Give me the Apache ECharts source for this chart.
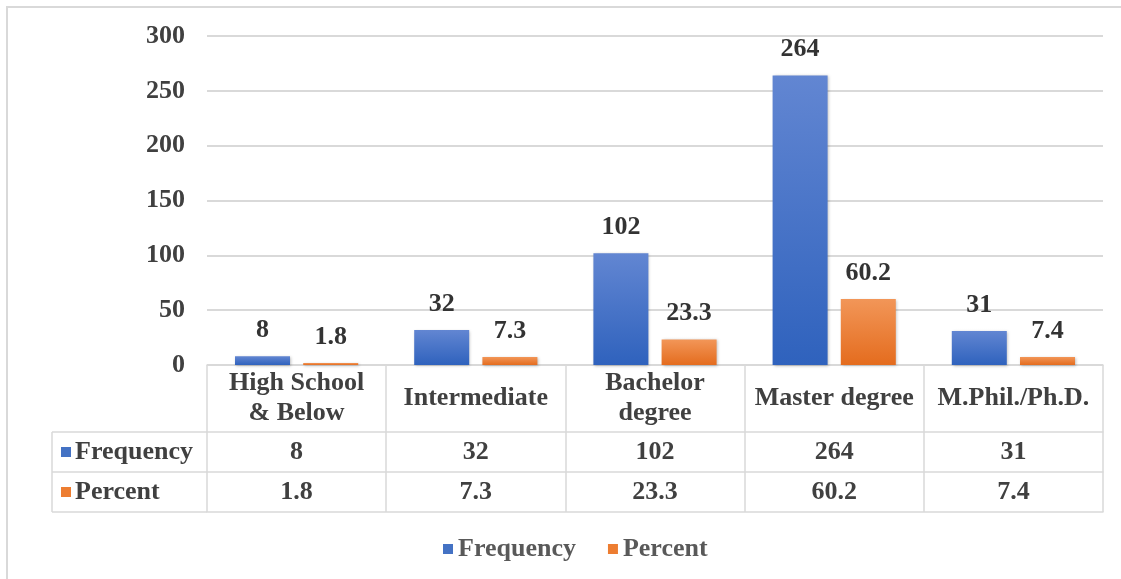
<!DOCTYPE html>
<html>
<head>
<meta charset="utf-8">
<script src="https://cdn.jsdelivr.net/npm/echarts@6/dist/echarts.min.js"></script>
<style>
  html, body { margin: 0; padding: 0; background: #ffffff; }
  #chart { width: 1121px; height: 579px; }
</style>
</head>
<body>
<div id="chart"></div>
<script>
// Education level of respondents: frequency and percent
const categories = ['High School\n& Below', 'Intermediate', 'Bachelor\ndegree', 'Master degree', 'M.Phil./Ph.D.'];
const seriesNames = ['Frequency', 'Percent'];
const frequency = [8, 32, 102, 264, 31];
const percent = [1.8, 7.3, 23.3, 60.2, 7.4];
const yMin = 0, yMax = 300, yStep = 50;

const FONT = 'Liberation Serif, "Times New Roman", serif';
const TEXT = '#404040';
const LINE = '#d9d9d9';

const blueFill = new echarts.graphic.LinearGradient(0, 0, 0, 1, [
  { offset: 0, color: '#6286d2' },
  { offset: 1, color: '#2f62bd' }
]);
const orangeFill = new echarts.graphic.LinearGradient(0, 0, 0, 1, [
  { offset: 0, color: '#f29658' },
  { offset: 1, color: '#e46c1e' }
]);

const labelStyle = {
  fontFamily: FONT, fontWeight: 'bold', fontSize: 26, color: TEXT
};

// grid geometry of the plot and the data table under it
const G = { left: 207, right: 18, top: 36, bottom: 214 };
const headerH = 67, rowH = 40;
const tableLeft = 52;
const axisY = 579 - G.bottom;

function tableAxis(data, offset, showLabel, margin) {
  return {
    type: 'category',
    data: data,
    position: 'bottom',
    offset: offset,
    axisLine: { show: true, lineStyle: { color: LINE, width: 1.5 } },
    axisTick: { show: false },
    axisLabel: Object.assign({ show: showLabel, interval: 0, margin: margin, verticalAlign: 'middle' }, labelStyle),
    splitLine: { show: false }
  };
}

const header = tableAxis(categories, 0, true, headerH / 2);
header.axisTick = { show: true, length: headerH + 2 * rowH, lineStyle: { color: LINE, width: 1.5 } };
header.axisLabel.lineHeight = 30;

// left column of the table: row titles with their colour keys
const rowGraphics = [];
[frequency, percent].forEach(function (_, i) {
  const yTop = axisY + headerH + i * rowH;
  rowGraphics.push({
    type: 'line', silent: true,
    shape: { x1: tableLeft, y1: yTop, x2: G.left, y2: yTop },
    style: { stroke: LINE, lineWidth: 1.5 }
  });
  rowGraphics.push({
    type: 'rect', silent: true,
    shape: { x: tableLeft + 9, y: yTop + rowH / 2 - 5, width: 10, height: 10 },
    style: { fill: i === 0 ? '#4472c4' : '#ed7d31' }
  });
  rowGraphics.push({
    type: 'text', silent: true,
    style: {
      x: tableLeft + 23, y: yTop + rowH / 2,
      text: seriesNames[i], verticalAlign: 'middle', align: 'left',
      font: 'bold 26px ' + FONT, fill: TEXT
    }
  });
});
const tableBottom = axisY + headerH + 2 * rowH;
rowGraphics.push({
  type: 'line', silent: true,
  shape: { x1: tableLeft, y1: tableBottom, x2: G.left, y2: tableBottom },
  style: { stroke: LINE, lineWidth: 1.5 }
});
rowGraphics.push({
  type: 'line', silent: true,
  shape: { x1: tableLeft, y1: axisY + headerH, x2: tableLeft, y2: tableBottom },
  style: { stroke: LINE, lineWidth: 1.5 }
});
// chart frame
rowGraphics.push({
  type: 'rect', silent: true, z: -1,
  shape: { x: 7, y: 7, width: 1200, height: 700 },
  style: { fill: 'none', stroke: LINE, lineWidth: 2 }
});

const chart = echarts.init(document.getElementById('chart'), null, { renderer: 'canvas' });
chart.setOption({
  animation: false,
  backgroundColor: '#ffffff',
  grid: { left: G.left, right: G.right, top: G.top, bottom: G.bottom, containLabel: false },
  legend: {
    data: [
      { name: seriesNames[0], itemStyle: { color: '#4472c4' } },
      { name: seriesNames[1], itemStyle: { color: '#ed7d31' } }
    ],
    left: 438, top: 531,
    icon: 'rect', itemWidth: 10, itemHeight: 10, itemGap: 32,
    textStyle: { fontFamily: FONT, fontWeight: 'bold', fontSize: 26, color: '#595959' }
  },
  xAxis: [
    header,
    tableAxis(frequency.map(String), headerH, true, rowH / 2),
    tableAxis(percent.map(String), headerH + rowH, true, rowH / 2),
    tableAxis(categories.map(function () { return ''; }), headerH + 2 * rowH, false, 0)
  ],
  yAxis: {
    type: 'value',
    min: yMin, max: yMax, interval: yStep,
    axisLine: { show: false },
    axisTick: { show: false },
    axisLabel: Object.assign({ margin: 22 }, labelStyle),
    splitLine: { show: true, lineStyle: { color: LINE, width: 2 } }
  },
  series: [
    {
      name: seriesNames[0], type: 'bar', xAxisIndex: 0,
      data: frequency, barWidth: 55, barGap: '24%',
      itemStyle: { color: blueFill, shadowBlur: 3, shadowColor: 'rgba(0,0,0,0.25)', shadowOffsetX: 1, shadowOffsetY: 1 },
      label: Object.assign({ show: true, position: 'top', distance: 13 }, labelStyle, { color: '#333333' })
    },
    {
      name: seriesNames[1], type: 'bar', xAxisIndex: 0,
      data: percent, barWidth: 55,
      itemStyle: { color: orangeFill, shadowBlur: 3, shadowColor: 'rgba(0,0,0,0.25)', shadowOffsetX: 1, shadowOffsetY: 1 },
      label: Object.assign({ show: true, position: 'top', distance: 13 }, labelStyle, { color: '#333333' })
    }
  ],
  graphic: rowGraphics
});
</script>
</body>
</html>
